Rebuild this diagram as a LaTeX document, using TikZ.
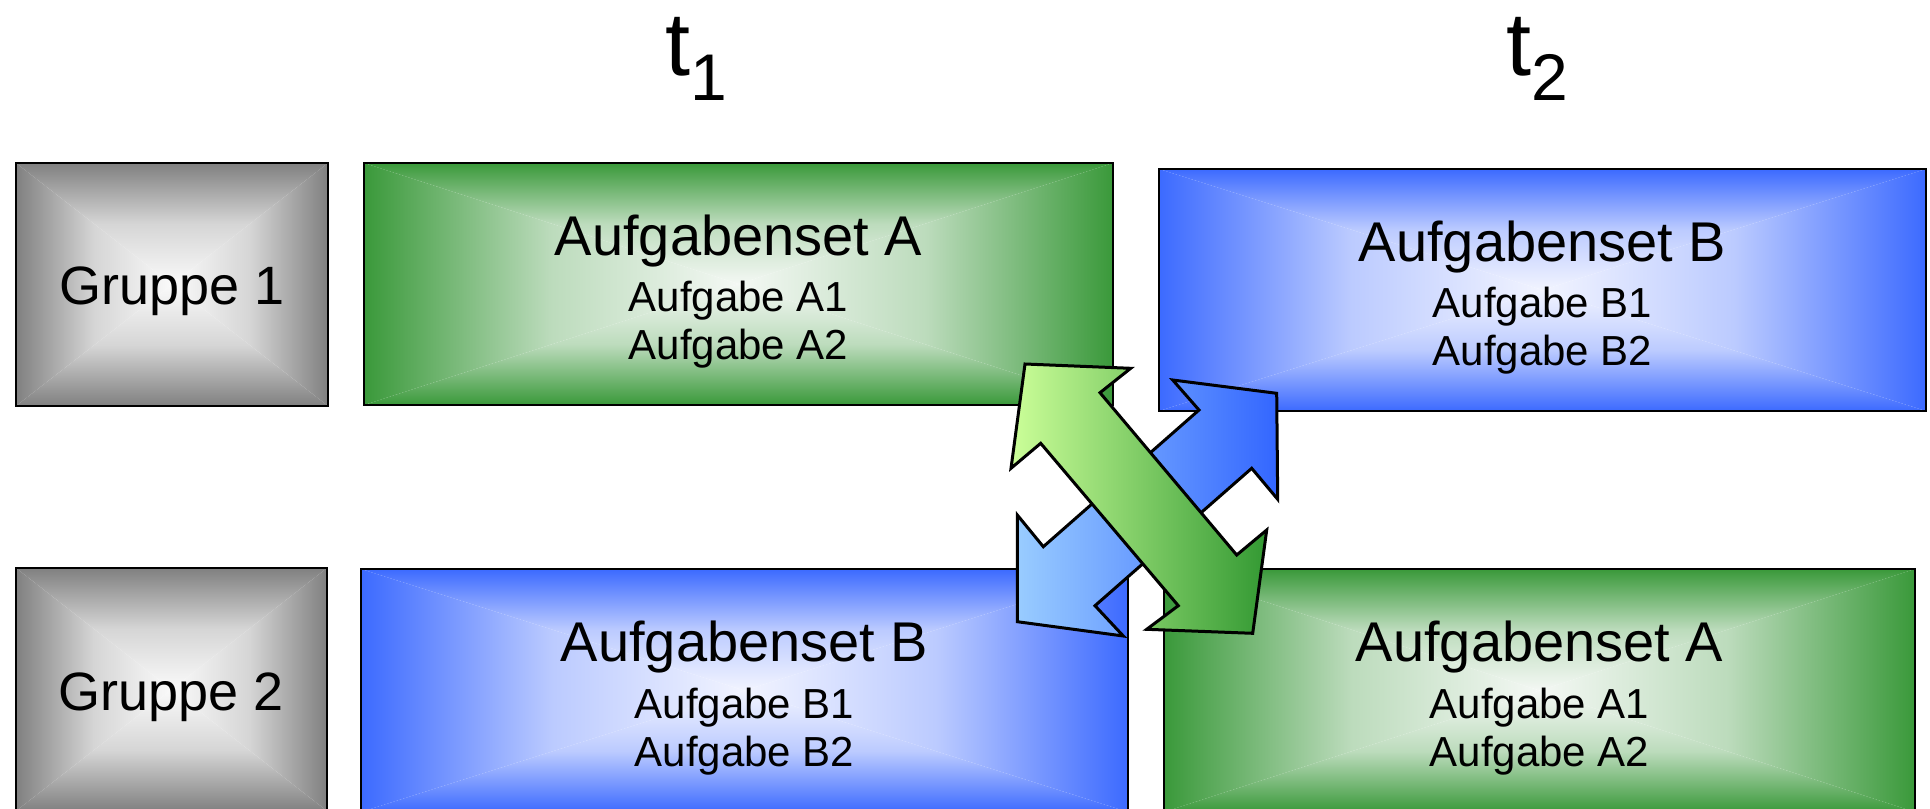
\documentclass[tikz,border=0pt]{standalone}
\usepackage{fontspec}
\setmainfont{Liberation Sans}
\usetikzlibrary{fit,calc}
\definecolor{grn}{RGB}{58,153,58}
\definecolor{grnc}{RGB}{244,248,244}
\definecolor{blu}{RGB}{60,106,255}
\definecolor{bluc}{RGB}{242,244,255}
\definecolor{gry}{RGB}{128,128,128}
\definecolor{gryc}{RGB}{250,250,250}
\definecolor{arlb}{RGB}{153,204,255}
\definecolor{ardb}{RGB}{51,102,255}
\definecolor{arlg}{RGB}{204,255,153}
\definecolor{ardg}{RGB}{51,153,51}
\newcommand\gradbox[7]{%
  \coordinate (#1-c) at ({(#2+#4)/2},{(#3+#5)/2});
  \shade[top color=#6, bottom color=#7, middle color=#6!30!#7] (#2,#3) -- (#4,#3) -- (#1-c) -- cycle;
  \shade[top color=#7, bottom color=#6, middle color=#6!30!#7] (#2,#5) -- (#4,#5) -- (#1-c) -- cycle;
  \shade[left color=#6, right color=#7, middle color=#6!30!#7] (#2,#3) -- (#2,#5) -- (#1-c) -- cycle;
  \shade[left color=#7, right color=#6, middle color=#6!30!#7] (#4,#3) -- (#4,#5) -- (#1-c) -- cycle;
  \node[boxframe, fit={(#2,#3) (#4,#5)}] (#1) {};
}
\tikzset{
  boxframe/.style={draw=black, line width=2bp, inner sep=0pt},
  titletext/.style={font=\fontsize{56bp}{64bp}\selectfont, anchor=base, inner sep=0pt},
  subtext/.style={font=\fontsize{42bp}{50bp}\selectfont, anchor=base, inner sep=0pt},
  grptext/.style={font=\fontsize{54bp}{62bp}\selectfont, anchor=base, inner sep=0pt},
  timetext/.style={font=\fontsize{90bp}{100bp}\selectfont, anchor=base west, inner sep=0pt},
  blockarrow/.style={draw=black, line width=3bp, line join=miter}
}
\begin{document}
\begin{tikzpicture}[x=1bp,y=-1bp]
\useasboundingbox (0,0) rectangle (1930,809);
\clip (0,0) rectangle (1930,809);

% time labels
\node[timetext] (t1) at (665,76) {t\raisebox{-24bp}{\fontsize{66bp}{72bp}\selectfont 1}};
\node[timetext] (t2) at (1506,76) {t\raisebox{-24bp}{\fontsize{66bp}{72bp}\selectfont 2}};

% group boxes
\gradbox{g1}{16}{163}{328}{406}{gry}{gryc}
\node[grptext] (g1-t) at ($(g1-c)+(0,20)$) {Gruppe 1};
\gradbox{g2}{16}{568}{327}{811}{gry}{gryc}
\node[grptext] (g2-t) at ($(g2-c)+(0,21)$) {Gruppe 2};

% task boxes
\gradbox{a1}{364}{163}{1113}{405}{grn}{grnc}
\node[titletext] (a1-t) at ($(a1-c)+(0,-29)$) {Aufgabenset A};
\node[subtext] (a1-s1) at ($(a1-c)+(0,27.5)$) {Aufgabe A1};
\node[subtext] (a1-s2) at ($(a1-c)+(0,75.5)$) {Aufgabe A2};

\gradbox{b1}{1159}{169}{1926}{411}{blu}{bluc}
\node[titletext] (b1-t) at ($(b1-c)+(0,-29)$) {Aufgabenset B};
\node[subtext] (b1-s1) at ($(b1-c)+(0,27.5)$) {Aufgabe B1};
\node[subtext] (b1-s2) at ($(b1-c)+(0,75.5)$) {Aufgabe B2};

\gradbox{b2}{361}{569}{1128}{812}{blu}{bluc}
\node[titletext] (b2-t) at ($(b2-c)+(0,-29)$) {Aufgabenset B};
\node[subtext] (b2-s1) at ($(b2-c)+(0,27.5)$) {Aufgabe B1};
\node[subtext] (b2-s2) at ($(b2-c)+(0,75.5)$) {Aufgabe B2};

\gradbox{a2}{1164}{569}{1915}{812}{grn}{grnc}
\node[titletext] (a2-t) at ($(a2-c)+(0,-29)$) {Aufgabenset A};
\node[subtext] (a2-s1) at ($(a2-c)+(0,27.5)$) {Aufgabe A1};
\node[subtext] (a2-s2) at ($(a2-c)+(0,75.5)$) {Aufgabe A2};

% blue double arrow (behind)
\shade[blockarrow, left color=arlb, right color=ardb]
  (1172.7,380) -- (1276.7,393.3) -- (1277.7,499.3) -- (1251.7,468.3)
  -- (1095,605.7) -- (1123.3,636) -- (1017.3,621.7) -- (1017.3,515)
  -- (1043.3,546.7) -- (1199,410) -- cycle;

% green double arrow (front)
\shade[blockarrow, left color=arlg, right color=ardg]
  (1025,364) -- (1130.7,368.3) -- (1100,392.7) -- (1236.7,555)
  -- (1266.7,530) -- (1252.7,633.3) -- (1146.7,629.3) -- (1178.3,605.7)
  -- (1040.7,443.3) -- (1011,468.3) -- cycle;
\end{tikzpicture}
\end{document}
